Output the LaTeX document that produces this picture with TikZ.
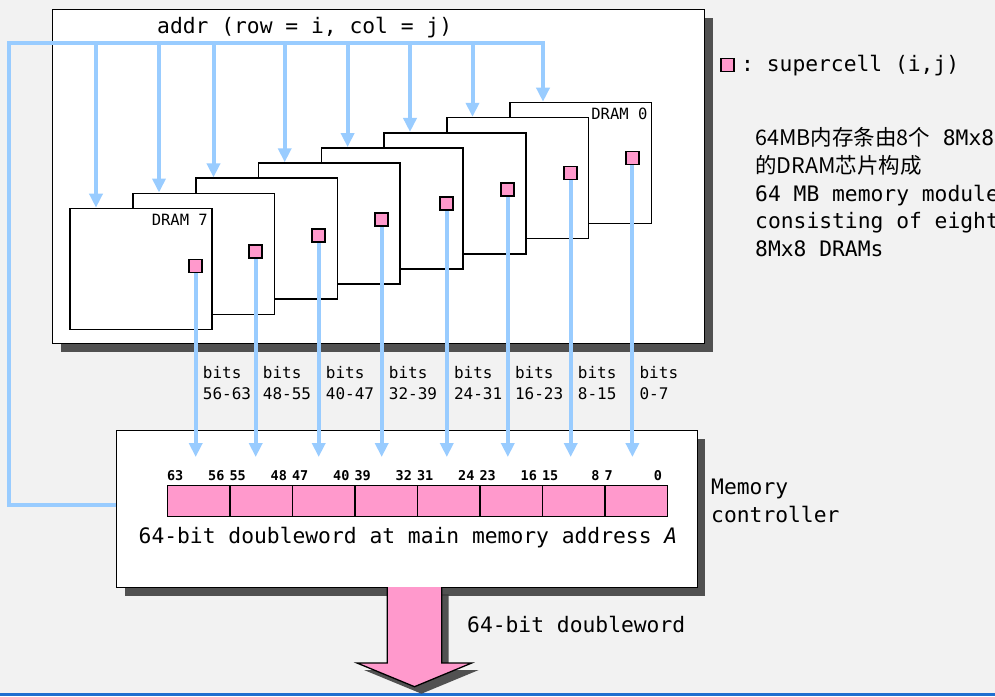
\documentclass[tikz,border=0pt]{standalone}
\usepackage{fontspec}
\setmonofont{DejaVu Sans Mono}
\newfontfamily\cjk{Noto Sans CJK SC}
\usetikzlibrary{arrows.meta,shadows}
\definecolor{bgc}{HTML}{F2F2F2}
\definecolor{busblue}{HTML}{99CCFF}
\definecolor{cellpink}{HTML}{FF99CC}
\definecolor{bandblue}{HTML}{1F6FD0}
\newcommand{\bigtt}{\ttfamily\fontsize{21.3}{28}\selectfont}
\newcommand{\midtt}{\ttfamily\fontsize{16}{21}\selectfont}
\begin{document}
\begin{tikzpicture}[x=1pt, y=-1pt,
  bus/.style={busblue, line width=4pt},
  tip/.style={-{Triangle[length=14pt,width=13pt]}},
  chip/.style={draw=black, line width=1.6pt, fill=white, minimum width=141.5pt, minimum height=121pt, anchor=north west, inner sep=0pt},
  cell/.style={draw=black, line width=1.8pt, fill=cellpink, minimum size=13pt, inner sep=0pt},
  regcell/.style={draw=black, line width=1.3pt, fill=cellpink, minimum width=62.5pt, minimum height=30.7pt, anchor=north west, inner sep=0pt},
  shadowbox/.style={draw=black, line width=1.3pt, fill=white, anchor=north west, inner sep=0pt,
    drop shadow={shadow xshift=8pt, shadow yshift=-8pt, fill=black!75, opacity=0.9}},
  txt/.style={inner sep=0pt, font=\bigtt},
  bitno/.style={inner sep=0pt, font=\ttfamily\bfseries\fontsize{13.5}{16}\selectfont},
  dramlbl/.style={inner sep=0pt, anchor=north east, font=\ttfamily\fontsize{15.5}{18}\selectfont}]
% Hintergrund
\useasboundingbox (0,0) rectangle (995,696);
\fill[bgc] (0,0) rectangle (995,696);
\fill[bandblue] (0,693) rectangle (995,696);
% Speichermodul mit den acht DRAM-Chips (0 hinten, 7 vorne)
\node[shadowbox, minimum width=652pt, minimum height=334pt] (module) at (52,9) {};
\node[txt, anchor=base west] (addr) at (157,33) {addr (row = i, col = j)};
\foreach \k/\sx/\sy in {0/632.4/158, 1/570.7/173, 2/507.8/189.5, 3/446.8/203.5, 4/381.7/219.8, 5/318.7/235.8, 6/255.7/251.5, 7/195.7/266}{
  \node[chip] (d\k) at ({509-62.8*\k},{101.7+15.14*\k}) {};
  \node[cell] (s\k) at (\sx,\sy) {};
}
\node[dramlbl] (l0) at ([xshift=-4.5pt,yshift=-6pt]d0.north east) {DRAM 0};
\node[dramlbl] (l7) at ([xshift=-4.5pt,yshift=-6pt]d7.north east) {DRAM 7};
% Speichercontroller
\node[shadowbox, minimum width=580.5pt, minimum height=157pt] (ctrl) at (116,430) {};
\foreach \k in {0,...,7}{
  \pgfmathtruncatemacro\lo{8*\k}
  \pgfmathtruncatemacro\hi{8*\k+7}
  \node[regcell] (r\k) at ({166.8+62.5*(7-\k)},485) {};
  \node[bitno, anchor=base west] (h\k) at ([yshift=5pt]r\k.north west) {\hi};
  \node[bitno, anchor=base east] (o\k) at ([xshift=-6pt,yshift=5pt]r\k.north east) {\lo};
}
\node[txt, anchor=base] (cap) at (408,543) {64-bit doubleword at main memory address \textit{A}};
% Adressleitungen
\draw[bus, tip] (ctrl.west |- 0,505) -- (9,505) -- (9,43) -- (543,43) -- (543,0 |- d0.north);
\foreach \k/\ax in {1/472.5, 2/410, 3/347.6, 4/284.7, 5/213.5, 6/159, 7/96}
  \draw[bus, tip] (\ax,43) -- (\ax,0 |- d\k.north);
% Datenleitungen
\foreach \k/\lbl in {0/0-7, 1/8-15, 2/16-23, 3/24-31, 4/32-39, 5/40-47, 6/48-55, 7/56-63}{
  \draw[bus, tip] (s\k.south) -- (s\k.south |- 0,457);
  \node[inner sep=0pt, font=\midtt, align=left, anchor=north west] (b\k) at ([xshift=7pt]s\k.south |- 0,366) {bits\\\lbl};
}
% Legende und Erklaerung
\node[cell] (key) at (727.7,65) {};
\node[txt, anchor=base west] (keytxt) at (741,71.5) {: supercell (i,j)};
\node[txt, anchor=base west] (n1) at (755,145.5) {{\cjk\fontsize{21.5}{26}\selectfont 64MB内存条由8个} 8Mx8};
\node[inner sep=0pt, anchor=base west, font=\cjk\fontsize{21.5}{26}\selectfont] (n2) at (755,173) {的DRAM芯片构成};
\node[txt, anchor=base west] (n3) at (755,201) {64 MB memory module};
\node[txt, anchor=base west] (n4) at (755,228) {consisting of eight};
\node[txt, anchor=base west] (n5) at (755,256) {8Mx8 DRAMs};
\node[txt, align=left, anchor=north west] (mc) at (711,478.5) {Memory\\controller};
% Ausgang: 64-bit doubleword
\fill[cellpink, drop shadow={shadow xshift=7pt, shadow yshift=-7pt, fill=black!75, opacity=0.9}]
  (387.3,587) -- (441.7,587) -- (441.7,663) -- (471.7,663) -- (414.5,686.7) -- (357,663) -- (387.3,663) -- cycle;
\draw[line width=1.3pt] (387.3,587) -- (387.3,663) -- (357,663) -- (414.5,686.7) -- (471.7,663) -- (441.7,663) -- (441.7,587);
\node[txt, anchor=base west] (out) at (467,632) {64-bit doubleword};
\end{tikzpicture}
\end{document}
